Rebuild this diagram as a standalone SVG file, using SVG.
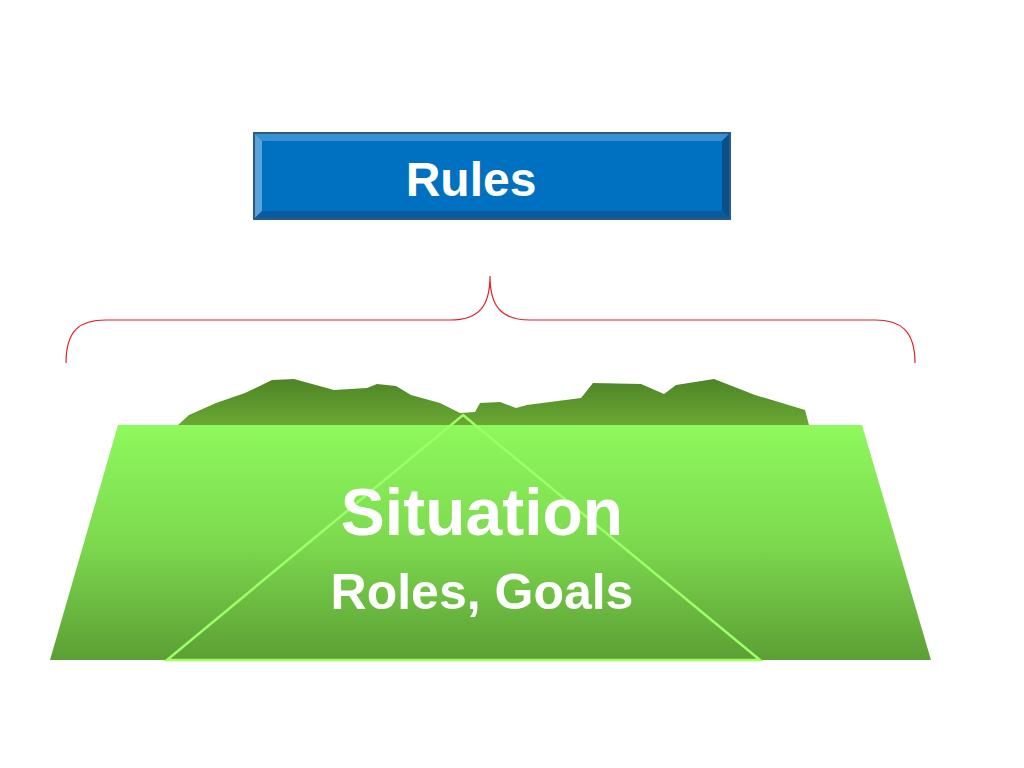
<svg xmlns="http://www.w3.org/2000/svg" width="1024" height="768" viewBox="0 0 1024 768">
<defs>
<linearGradient id="mt" x1="0" y1="0" x2="0" y2="1"><stop offset="0" stop-color="#4e8425"/><stop offset="1" stop-color="#6aa834"/></linearGradient>
<linearGradient id="tp" x1="0" y1="0" x2="0" y2="1"><stop offset="0" stop-color="#8ef95c"/><stop offset="0.5" stop-color="#7dd94f"/><stop offset="1" stop-color="#5c9f34"/></linearGradient>
<style>.t{font-family:"Liberation Sans",Arial,sans-serif;font-weight:bold;fill:#fff;text-anchor:middle}</style>
</defs>
<rect width="1024" height="768" fill="#fff"/>
<g id="rules">
<rect x="254" y="133" width="476" height="86" fill="#0070c0"/>
<polygon points="254,133 730,133 722,141 262,141" fill="#3a8fd0"/>
<polygon points="254,133 262,141 262,211 254,219" fill="#5ba3dc"/>
<polygon points="730,133 730,219 722,211 722,141" fill="#0b4f8a"/>
<polygon points="254,219 262,211 722,211 730,219" fill="#0a5a9c"/>
<rect x="254" y="133" width="476" height="86" fill="none" stroke="#2a5a8a" stroke-width="2"/>
<text class="t" x="471" y="196" font-size="48">Rules</text>
</g>
<g id="connectors">
<path d="M66,363 C66,330 80,320 106,320 L450,320 C480,320 490,305 490,276 C490,305 500,320 530,320 L875,320 C900,320 915,330 915,363" fill="none" stroke="#e0202a" stroke-width="1.2"/>
</g>
<g id="situation">
<polygon points="178,425 189,415 216,403 245,393 272,380 294,379 334,390 367,388 377,384 396,386 411,395 440,403 460,413 475,412 480,403 500,402 516,408 527,405 581,398 593,383 641,384 664,394 676,385 714,379 755,395 782,403 805,410 809,425" fill="url(#mt)"/>
<polygon points="118,425 862,425 931,660 50,660" fill="url(#tp)"/>
<polygon points="463,415 760,660 167,660" fill="none" stroke="#9dff6a" stroke-width="2.5"/>
<text class="t" x="482" y="535" font-size="66">Situation</text>
<text class="t" x="482" y="609" font-size="50">Roles, Goals</text>
</g>
</svg>
